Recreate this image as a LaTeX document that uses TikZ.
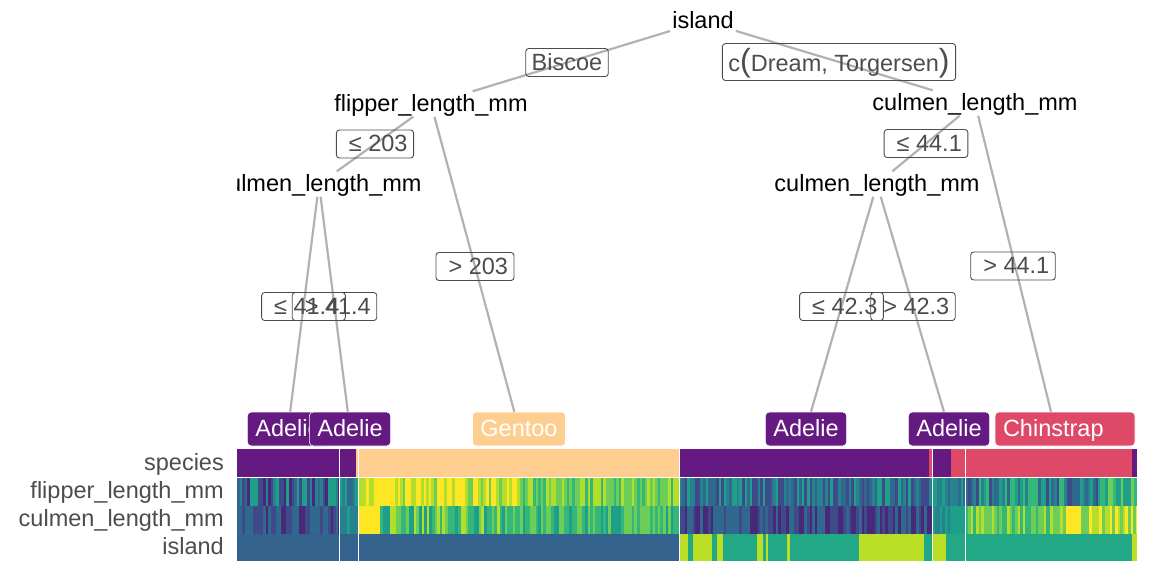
\documentclass[tikz,border=0pt]{standalone}
\usepackage{fontspec}
\setmainfont{Liberation Sans}

% viridis steps for the heatmap
\definecolor{vir0}{HTML}{440154}
\definecolor{vir1}{HTML}{482878}
\definecolor{vir2}{HTML}{3E4A89}
\definecolor{vir3}{HTML}{31688E}
\definecolor{vir4}{HTML}{26828E}
\definecolor{vir5}{HTML}{1F9E89}
\definecolor{vir6}{HTML}{35B779}
\definecolor{vir7}{HTML}{6DCD59}
\definecolor{vir8}{HTML}{B4DE2C}
\definecolor{vir9}{HTML}{FDE725}
\definecolor{adelie}{HTML}{641A80}
\definecolor{chinstrap}{HTML}{DE4968}
\definecolor{gentoo}{HTML}{FECE91}
\definecolor{islandBiscoe}{HTML}{33638D}
\definecolor{islandDream}{HTML}{22A884}
\definecolor{islandTorgersen}{HTML}{BBDF27}

% #1 top, #2 from x, #3 to x, #4/#5 lowest/highest colour
\newcommand\heatstripes[5]{%
  \pgfmathtruncatemacro\nstripes{(#3-#2)/2.6}%
  \foreach \k in {0,...,\nstripes}{%
    \pgfmathrandominteger{\ci}{#4}{#5}%
    \pgfmathsetmacro\xa{#2+\k*2.6}%
    \pgfmathsetmacro\xb{min(\xa+2.8,#3)}%
    \fill[vir\ci] (\xa,#1) rectangle (\xb,#1+28);
  }}

\begin{document}
\begin{tikzpicture}[
        x=1pt, y=-1pt,
        font=\fontsize{23.5}{28}\selectfont,
        split/.style ={inner sep=2, text height=18, text depth=3},
        cond/.style ={draw=black!70, rounded corners=3, text=black!70, line width=0.9, inner xsep=6, inner ysep=3.5, text height=18, text depth=3},
        leaf/.style ={draw=white, line width=0.6, rounded corners=4, text=white, inner xsep=8, inner ysep=6.5, text height=18, text depth=3},
        branch/.style ={draw=black!30, line width=2.2},
        rowlab/.style ={anchor=east, text=black!70, inner sep=0, text height=18, text depth=3},
    ]
    \useasboundingbox (0,0) rectangle (1152,576);

    \begin{scope}
    \clip (237,0) rectangle (1152,447);
    \node[split] (island) at (703,21) {island};
    \node[split] (flipper) at (431,104) {flipper\_length\_mm};
    \node[split] (culmenr) at (975,103) {culmen\_length\_mm};
    \node[split] (culmenl) at (319,184) {culmen\_length\_mm};
    \node[split] (culmenm) at (877,184) {culmen\_length\_mm};

    \node[leaf, fill=adelie] (adelie1) at (288,429) {Adelie};
    \node[leaf, fill=adelie] (adelie2) at (350,429) {Adelie};
    \node[leaf, fill=gentoo] (gentoo) at (519,429) {Gentoo};
    \node[leaf, fill=adelie] (adelie3) at (806,429) {Adelie};
    \node[leaf, fill=adelie] (adelie4) at (949,429) {Adelie};
    \node[leaf, fill=chinstrap, text width=124, align=left] (chinstrap) at (1065,429) {Chinstrap};
    \coordinate (chintip) at (1051,429);

    \path (island) edge[branch] (flipper);
    \path (island) edge[branch] (culmenr);
    \path (flipper) edge[branch] (culmenl);
    \path (flipper) edge[branch] (gentoo);
    \path (culmenl) edge[branch] (adelie1);
    \path (culmenl) edge[branch] (adelie2);
    \path (culmenr) edge[branch] (culmenm);
    \path (culmenr) edge[branch] (chintip |- chinstrap.north);
    \path (culmenm) edge[branch] (adelie3);
    \path (culmenm) edge[branch] (adelie4);

    \path (island.center) -- node[cond] {Biscoe} (flipper.center);
    \path (island.center) -- node[cond, text height=24, text depth=6] {c{\fontsize{32}{32}\selectfont(}Dream, Torgersen{\fontsize{32}{32}\selectfont)}} (culmenr.center);
    \path (flipper.center) -- node[cond] {\ ≤ 203} (culmenl.center);
    \path (flipper.center) -- node[cond] {\ > 203} (gentoo.center);
    \path (culmenl.center) -- node[cond] {\ ≤ 41.4} (adelie1.center);
    \path (culmenl.center) -- node[cond] {\ > 41.4} (adelie2.center);
    \path (culmenr.center) -- node[cond] {\ ≤ 44.1} (culmenm.center);
    \path (culmenr.center) -- node[cond] {\ > 44.1} (chintip);
    \path (culmenm.center) -- node[cond] {\ ≤ 42.3} (adelie3.center);
    \path (culmenm.center) -- node[cond] {\ > 42.3} (adelie4.center);
    \end{scope}

    % heatmap
    \node[rowlab] (lblspecies) at (224,463) {species};
    \node[rowlab] (lblflipper) at (224,491) {flipper\_length\_mm};
    \node[rowlab] (lblculmen) at (224,519) {culmen\_length\_mm};
    \node[rowlab] (lblisland) at (224,547) {island};

    \fill[adelie] (237,449) rectangle (356,477);
    \fill[gentoo] (356,449) rectangle (679.5,477);
    \fill[adelie] (679.5,449) rectangle (929,477);
    \fill[chinstrap] (929,449) rectangle (932,477);
    \fill[adelie] (932,449) rectangle (951,477);
    \fill[chinstrap] (951,449) rectangle (1132,477);
    \fill[adelie] (1132,449) rectangle (1137,477);

    \pgfmathsetseed{12}
    \heatstripes{478}{237}{339.5}{1}{5}
    \heatstripes{478}{339.5}{358.5}{3}{5}
    \heatstripes{478}{358.5}{395}{8}{9}
    \heatstripes{478}{395}{520}{7}{9}
    \heatstripes{478}{520}{679.5}{6}{8}
    \heatstripes{478}{679.5}{932}{2}{5}
    \heatstripes{478}{932}{965.5}{3}{5}
    \heatstripes{478}{965.5}{1100}{2}{6}
    \heatstripes{478}{1100}{1137}{5}{7}

    \heatstripes{506}{237}{339.5}{1}{3}
    \heatstripes{506}{339.5}{358.5}{4}{5}
    \heatstripes{506}{358.5}{380}{9}{9}
    \heatstripes{506}{380}{520}{5}{8}
    \heatstripes{506}{520}{679.5}{5}{7}
    \heatstripes{506}{679.5}{932}{1}{3}
    \heatstripes{506}{932}{965.5}{4}{5}
    \heatstripes{506}{965.5}{1050}{6}{8}
    \heatstripes{506}{1050}{1137}{7}{9}

    \fill[islandBiscoe] (237,534) rectangle (679.5,561);
    \fill[islandDream] (679.5,534) rectangle (1137,561);
    \foreach \xa/\xb in {680/688, 693/712, 717/723, 757/763, 766/768, 787/790, 859/924, 933/946, 1132/1137}
        \fill[islandTorgersen] (\xa,534) rectangle (\xb,561);

    \draw[white, line width=1] (237,477.5) -- (1137,477.5);
    \foreach \xs in {339.5, 358.5, 679.5, 932.3, 965.5}
        \draw[white, line width=1.2] (\xs,449) -- (\xs,561);

\end{tikzpicture}
\end{document}
